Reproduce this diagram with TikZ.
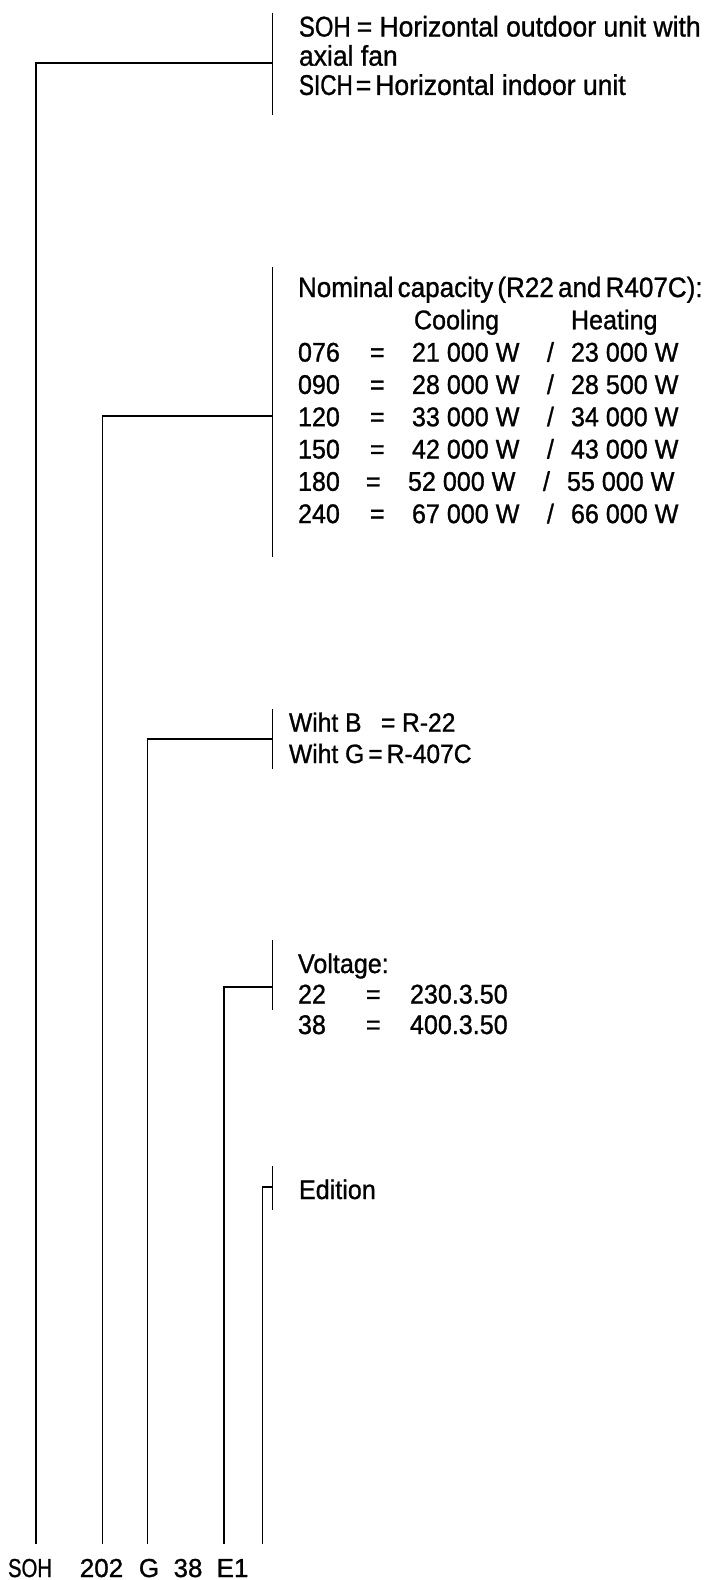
\documentclass[tikz,border=0pt]{standalone}
\usepackage{fontspec}
\setmainfont{Liberation Sans}[FakeStretch=0.93,FakeBold=1]
\newfontfamily\lblfont{Liberation Sans}[FakeBold=1]
\newcommand\capline[4]{\hbox{\makebox[#1pt][l]{#2}\makebox[42pt][l]{=}\makebox[135pt][l]{#3}\makebox[24pt][l]{/}#4}}
\begin{document}
\begin{tikzpicture}[x=1pt,y=-1pt,
  conn/.style={draw=black,line width=1.2pt},
  bracketline/.style={draw=black,line width=1.2pt},
  txt/.style={anchor=base west,inner sep=0pt,outer sep=0pt,font=\fontsize{27}{32.3}\selectfont},
  lbl/.style={anchor=base,inner sep=0pt,outer sep=0pt,font=\lblfont\fontsize{26}{30}\selectfont}]
\useasboundingbox (0,0) rectangle (710,1580);

% bracket coordinates
\coordinate (b1t) at (272.5,12.7);  \coordinate (b1b) at (272.5,115);  \coordinate (b1) at (272.5,63);
\coordinate (b2t) at (272.5,267);   \coordinate (b2b) at (272.5,557);  \coordinate (b2) at (272.5,416);
\coordinate (b3t) at (272.5,709);   \coordinate (b3b) at (272.5,769);  \coordinate (b3) at (272.5,739);
\coordinate (b4t) at (272.5,940);   \coordinate (b4b) at (272.5,1010); \coordinate (b4) at (272.5,987);
\coordinate (b5t) at (272.5,1166);  \coordinate (b5b) at (272.5,1210); \coordinate (b5) at (272.5,1187);

% lower ends of the code lines
\coordinate (e1) at (36,1544);
\coordinate (e2) at (102.3,1544);
\coordinate (e3) at (147.3,1544);
\coordinate (e4) at (224,1544);
\coordinate (e5) at (262.7,1544);

% brackets
\draw[bracketline] (b1t) -- (b1b);
\draw[bracketline] (b2t) -- (b2b);
\draw[bracketline] (b3t) -- (b3b);
\draw[bracketline] (b4t) -- (b4b);
\draw[bracketline] (b5t) -- (b5b);

% connectors
\draw[conn] (e1) |- (b1);
\draw[conn] (e2) |- (b2);
\draw[conn] (e3) |- (b3);
\draw[conn] (e4) |- (b4);
\draw[conn] (e5) |- (b5);

% texts
\node[txt,font=\fontsize{28.5}{29.2}\selectfont] (t1) at (299,36.5) {\vtop{%
  \hbox{\scalebox{0.9}[1]{SOH}\hskip6pt= Horizontal outdoor unit with}%
  \hbox{axial fan}%
  \hbox{\scalebox{0.85}[1]{SICH}\hskip3pt=\hskip4pt Horizontal indoor unit}}};

\node[txt] (t2) at (298,297) {\vtop{%
  \hbox{\fontsize{28}{32.3}\selectfont\spaceskip=0.15em Nominal capacity (R22 and R407C):}%
  \hbox{\hskip116pt\makebox[157pt][l]{Cooling}Heating}%
  \capline{72}{076}{21 000 W}{23 000 W}%
  \capline{72}{090}{28 000 W}{28 500 W}%
  \capline{72}{120}{33 000 W}{34 000 W}%
  \capline{72}{150}{42 000 W}{43 000 W}%
  \capline{68}{180}{52 000 W}{55 000 W}%
  \capline{72}{240}{67 000 W}{66 000 W}}};

\node[txt,font=\fontsize{26.5}{31.3}\selectfont] (t3) at (289,731.7) {\vtop{%
  \hbox{\makebox[92pt][l]{Wiht B}\makebox[21pt][l]{=}R-22}%
  \hbox{Wiht G\hskip4pt=\hskip4pt R-407C}}};

\node[txt,font=\fontsize{27}{30.5}\selectfont] (t4) at (298,973) {\vtop{%
  \hbox{Voltage:}%
  \hbox{\makebox[68pt][l]{22}\makebox[44pt][l]{=}230.3.50}%
  \hbox{\makebox[68pt][l]{38}\makebox[44pt][l]{=}400.3.50}}};

\node[txt] (t5) at (299,1199) {Edition};

% code labels
\node[lbl] (l1) at (30,1577) {\scalebox{0.78}[1]{SOH}};
\node[lbl] (l2) at (101.5,1577) {202};
\node[lbl] (l3) at (149,1577) {G};
\node[lbl] (l4) at (188,1577) {38};
\node[lbl] (l5) at (232.5,1577) {E1};
\end{tikzpicture}
\end{document}
